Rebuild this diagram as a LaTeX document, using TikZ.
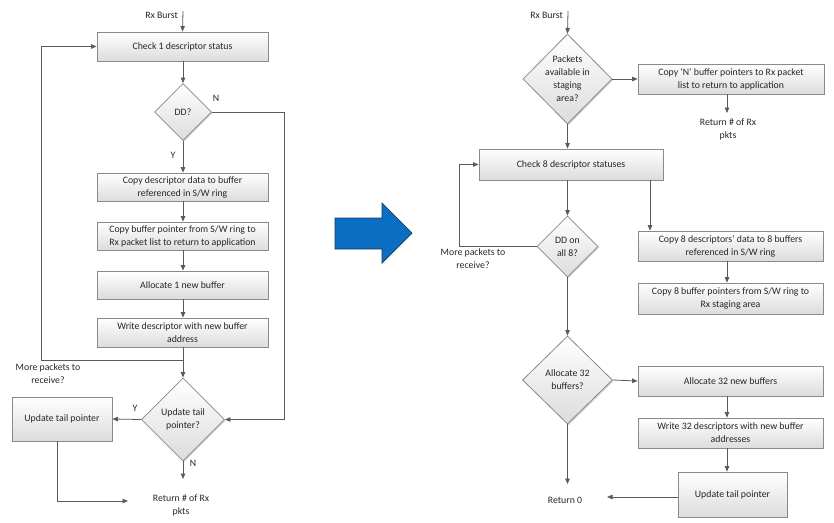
\documentclass[tikz,border=0pt]{standalone}
\usepackage{fontspec}
\setmainfont{Carlito}
\usetikzlibrary{shapes.geometric,arrows.meta,shadows}
\definecolor{ln}{HTML}{5A5A5A}
\definecolor{bd}{HTML}{8A8A8A}
\definecolor{fb}{HTML}{DCDCDC}
\definecolor{tc}{HTML}{262626}
\definecolor{blu}{HTML}{0A6FC2}
\definecolor{bluedge}{HTML}{1F3550}
\begin{document}
\begin{tikzpicture}[x=1pt,y=-1pt,
  font=\fontsize{9.8}{13}\selectfont, text=tc,
  box/.style={draw=bd, line width=0.8pt, top color=white, bottom color=fb, align=center, inner sep=2pt,
    drop shadow={shadow xshift=1.2pt,shadow yshift=-1.2pt,fill=black,opacity=0.18}},
  dia/.style={diamond, draw=bd, line width=0.8pt, top color=white, bottom color=fb, inner sep=0pt,
    drop shadow={shadow xshift=1.2pt,shadow yshift=-1.2pt,fill=black,opacity=0.18}},
  txt/.style={align=center, inner sep=1pt},
  arr/.style={draw=ln, line width=0.8pt, -{Triangle[length=5.5pt,width=4.5pt]}},
  ln/.style={draw=ln, line width=0.8pt}]
\useasboundingbox (0,0) rectangle (834,522);

% ---------- left flowchart ----------
\node[txt, anchor=east] (rxl) at (179,15) {Rx Burst};
\coordinate (rxlT) at (183,11);
\node[box, minimum width=171pt, minimum height=29pt] (b1) at (182.5,46.5) {Check 1 descriptor status};
\node[dia, minimum width=57pt, minimum height=57pt, label={[txt]center:DD?}] (d1) at (183,112) {};
\node[box, minimum width=171pt, minimum height=28pt] (b2) at (182.5,187) {Copy descriptor data to buffer\\referenced in S/W ring};
\node[box, minimum width=171pt, minimum height=28pt] (b3) at (182.5,236) {Copy buffer pointer from S/W ring to\\Rx packet list to return to application};
\node[box, minimum width=171pt, minimum height=28pt] (b4) at (182.5,285) {Allocate 1 new buffer};
\node[box, minimum width=171pt, minimum height=29pt] (b5) at (182.5,332.5) {Write descriptor with new buffer\\address};
\node[dia, minimum width=83pt, minimum height=83pt, label={[txt]center:Update tail\\pointer?}] (d2) at (183,419.5) {};
\node[box, minimum width=100pt, minimum height=44pt] (bt) at (62,419) {Update tail pointer};
\node[txt] (retl) at (181,505.5) {Return \# of Rx\\pkts};
\node[txt] (morel) at (48,374) {More packets to\\receive?};
\node[txt] (nl1) at (216,98) {N};
\node[txt] (yl1) at (173,155) {Y};
\node[txt] (yl2) at (135,408) {Y};
\node[txt] (nl2) at (193,463) {N};

\coordinate (jL) at (183,360);
\coordinate (lpL) at (41,360);
\coordinate (nL) at (284,112);
\coordinate (retLtop) at (183,479);
\coordinate (btb) at (57,441);
\coordinate (retLleft) at (128,501);

\draw[arr] (rxlT) -- (b1.north);
\draw[arr] (b1.south -| d1.north) -- (d1.north);
\draw[arr] (d1.south) -- (d1.south |- b2.north);
\draw[arr] (b2.south -| d1.north) -- (d1.south |- b3.north);
\draw[arr] (b3.south -| d1.north) -- (d1.south |- b4.north);
\draw[arr] (b4.south -| d1.north) -- (d1.south |- b5.north);
\draw[arr] (b5.south -| d1.north) -- (d2.north);
\draw[arr] (jL) -- (lpL) |- (b1.west);
\draw[arr] (d1.east) -- (nL) |- (d2.east);
\draw[arr] (d2.west) -- (bt.east);
\draw[arr] (d2.south) -- (retLtop);
\draw[arr] (btb) |- (retLleft);

% ---------- blue arrow ----------
\draw[fill=blu, draw=bluedge, line width=0.7pt, line join=miter]
  (335,218) -- (382,218) -- (382,203) -- (412,233) -- (382,263) -- (382,249) -- (335,249) -- cycle;

% ---------- right flowchart ----------
\node[txt, anchor=east] (rxr) at (564,15) {Rx Burst};
\coordinate (rxrT) at (568,11);
\node[dia, minimum width=89pt, minimum height=90pt, label={[txt]center:Packets\\available in\\staging\\area?}] (dA) at (567.5,79) {};
\node[box, minimum width=186pt, minimum height=30pt] (bN) at (731,79) {Copy ‘N’ buffer pointers to Rx packet\\list to return to application};
\node[txt] (retr) at (728,129.5) {Return \# of Rx\\pkts};
\node[box, minimum width=184pt, minimum height=31pt] (bC) at (571,164.5) {Check 8 descriptor statuses};
\node[dia, minimum width=61pt, minimum height=61pt, label={[txt]center:DD on\\all 8?}] (dB) at (567.5,246.5) {};
\node[box, minimum width=185pt, minimum height=30pt] (bD) at (730.5,246) {Copy 8 descriptors’ data to 8 buffers\\referenced in S/W ring};
\node[box, minimum width=185pt, minimum height=31pt] (bE) at (730.5,298.5) {Copy 8 buffer pointers from S/W ring to\\Rx staging area};
\node[txt] (morer) at (473,258.5) {More packets to\\receive?};
\node[dia, minimum width=90pt, minimum height=88pt, label={[txt]center:Allocate 32\\buffers?}] (dC) at (567.5,380) {};
\node[box, minimum width=185pt, minimum height=30pt] (bF) at (730.5,381) {Allocate 32 new buffers};
\node[box, minimum width=185pt, minimum height=30pt] (bG) at (730.5,433) {Write 32 descriptors with new buffer\\addresses};
\node[box, minimum width=109pt, minimum height=45pt] (bH) at (732.5,494.5) {Update tail pointer};
\node[txt] (ret0) at (565,500) {Return 0};

\coordinate (colR) at (727,0);
\coordinate (colC) at (650,0);
\coordinate (rrtop) at (727,113);
\coordinate (lpR) at (459,246.5);
\coordinate (ret0top) at (567.5,484);
\coordinate (ret0right) at (607,497);

\draw[arr] (rxrT) -- (dA.north);
\draw[arr] (dA.east) -- (bN.west);
\draw[arr] (bN.south -| colR) -- (rrtop);
\draw[arr] (dA.south) -- (dA.south |- bC.north);
\draw[arr] (bC.south -| dB.north) -- (dB.north);
\draw[arr] (bC.south -| colC) -- (colC |- bD.north);
\draw[arr] (dB.west) -- (lpR) |- (bC.west);
\draw[arr] (bD.south -| colR) -- (bE.north -| colR);
\draw[arr] (dB.south) -- (dC.north);
\draw[arr] (dC.east) -- (bF.west);
\draw[arr] (bF.south -| colR) -- (bG.north -| colR);
\draw[arr] (bG.south -| colR) -- (bH.north -| colR);
\draw[arr] (bH.west |- ret0right) -- (ret0right);
\draw[arr] (dC.south) -- (ret0top);
\end{tikzpicture}
\end{document}
